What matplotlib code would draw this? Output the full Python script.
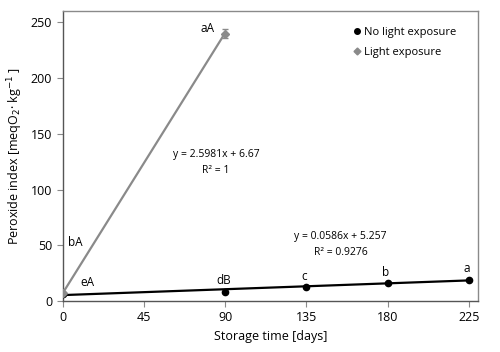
import matplotlib.pyplot as plt
import numpy as np
from matplotlib.lines import Line2D

plt.rcParams['font.family'] = ['Open Sans', 'DejaVu Sans']

# data
days_dark = [0, 90, 135, 180, 225]
pv_dark = [6.0, 8.3, 12.5, 16.0, 19.0]
letters_dark = ['eA', 'dB', 'c', 'b', 'a']

days_light = [0, 90]
pv_light = [7.0, 240.0]
err_light = [0.0, 4.0]
letters_light = ['bA', 'aA']

# trend lines as printed on the chart
fit_dark = (0.0586, 5.257)
fit_light = (2.5981, 6.67)

fig, ax = plt.subplots(figsize=(5, 3.52), dpi=100)
fig.subplots_adjust(left=0.125, right=0.956, top=0.968, bottom=0.145)

gray = '#8a8a8a'
x1 = np.array([0, 225])
ax.plot(x1, fit_dark[0] * x1 + fit_dark[1], color='black', lw=1.6, zorder=2)
x2 = np.array([0, 90])
ax.plot(x2, fit_light[0] * x2 + fit_light[1], color=gray, lw=1.6, zorder=2)

ax.plot(days_dark, pv_dark, 'o', color='black', ms=4.5, zorder=3)
ax.errorbar(days_light, pv_light, yerr=err_light, fmt='D', color=gray, ms=4,
            capsize=2.5, elinewidth=1, zorder=3)

# letters
fs = 8.5
ax.text(days_dark[0] + 14, pv_dark[0] + 7, letters_dark[0], fontsize=fs, ha='center')
for d, v, t in zip(days_dark[1:], pv_dark[1:], letters_dark[1:]):
    ax.text(d - 1, v + 4, t, fontsize=fs, ha='center', va='bottom')
ax.text(days_light[0] + 7, 49, letters_light[0], fontsize=fs, ha='center')
ax.text(days_light[1] - 10, pv_light[1] - 1, letters_light[1], fontsize=fs, ha='center', va='bottom')

ax.text(85, 124, 'y = 2.5981x + 6.67\nR² = 1', fontsize=7.5, ha='center', va='center',
        linespacing=1.6)
ax.text(154, 51, 'y = 0.0586x + 5.257\nR² = 0.9276', fontsize=7.5, ha='center', va='center',
        linespacing=1.6)

ax.set_xlim(0, 230)
ax.set_ylim(0, 260)
ax.set_xticks([0, 45, 90, 135, 180, 225])
ax.set_yticks([0, 50, 100, 150, 200, 250])
ax.tick_params(labelsize=9, color=gray, direction='out', length=4)
for s in ax.spines.values():
    s.set_color(gray)
    s.set_linewidth(1)
ax.spines['left'].set_color('#555555')
ax.spines['bottom'].set_color('#555555')

ax.set_xlabel('Storage time [days]', fontsize=9)
ax.set_ylabel('Peroxide index [meqO$_2$· kg$^{-1}$ ]', fontsize=9)

handles = [
    Line2D([0], [0], marker='o', color='black', ls='none', ms=4, label='No light exposure'),
    Line2D([0], [0], marker='D', color=gray, ls='none', ms=3.5, label='Light exposure'),
]
ax.legend(handles=handles, loc='upper right', frameon=False, fontsize=8, handletextpad=0.1,
          handlelength=1, borderaxespad=1.0, labelspacing=0.8, bbox_to_anchor=(0.985, 1.0))

fig.savefig('out.png', dpi=100)
